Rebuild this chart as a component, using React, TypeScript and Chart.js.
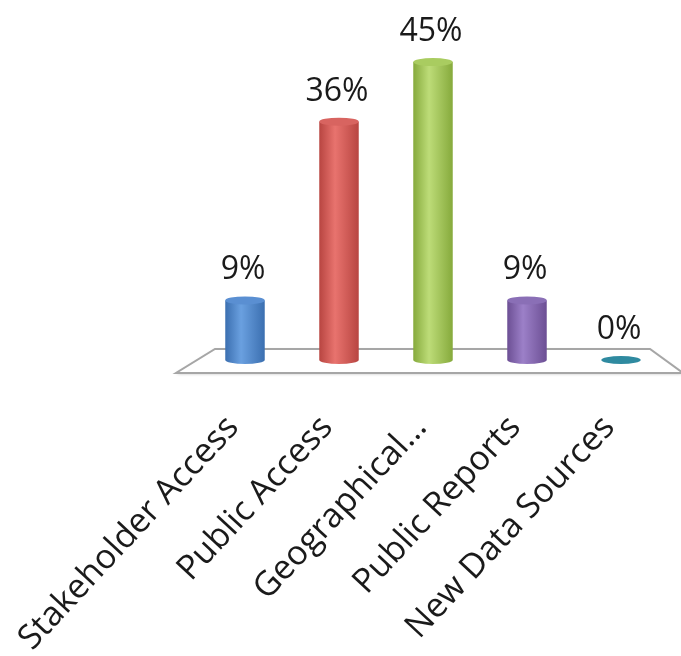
import React, { useEffect, useRef } from "react";
import { Chart, registerables } from "chart.js";

Chart.register(...registerables);

const categories = ["Stakeholder Access", "Public Access", "Geographical…", "Public Reports", "New Data Sources"];
const values = [9, 36, 45, 9, 0];
const valueLabels = ["9%", "36%", "45%", "9%", "0%"];
const darkColors = ["#3b6fb0", "#b84541", "#86aa3c", "#6c4f94", "#2f8aa0"];
const lightColors = ["#6aa0e0", "#e8736e", "#bddc78", "#9c80c8", "#4bb0c8"];
const topColors = ["#5a8fd2", "#d86460", "#a9cc60", "#8a6fb6", "#3aa0b8"];

const FONT = "'Open Sans', 'Liberation Sans', sans-serif";

const cylinderPlugin = {
  id: "cylinders",
  beforeDatasetsDraw(chart: any) {
    const ctx = chart.ctx;
    const y = chart.scales.y;
    const x = chart.scales.x;
    const base = y.getPixelForValue(0);
    const left = x.left;
    const right = x.right;
    ctx.save();
    ctx.beginPath();
    ctx.moveTo(left + 17, base - 11);
    ctx.lineTo(right - 18, base - 11);
    ctx.lineTo(right + 15, base + 13);
    ctx.lineTo(left - 22, base + 13);
    ctx.closePath();
    ctx.fillStyle = "#ffffff";
    ctx.shadowColor = "rgba(0,0,0,0.25)";
    ctx.shadowBlur = 3;
    ctx.shadowOffsetY = 1;
    ctx.fill();
    ctx.shadowColor = "transparent";
    ctx.strokeStyle = "#a6a6a6";
    ctx.lineWidth = 2;
    ctx.stroke();
    ctx.restore();

    const meta = chart.getDatasetMeta(0);
    meta.data.forEach((bar: any, i: number) => {
      const { x: cx, y: top, base: b, width } = bar.getProps(["x", "y", "base", "width"], true);
      const rx = width / 2;
      const ry = 4;
      ctx.save();
      if (Math.abs(b - top) < 1) {
        ctx.beginPath();
        ctx.ellipse(cx, b, rx, ry, 0, 0, Math.PI * 2);
        ctx.fillStyle = darkColors[i];
        ctx.fill();
        ctx.restore();
        return;
      }
      const g = ctx.createLinearGradient(cx - rx, 0, cx + rx, 0);
      g.addColorStop(0, darkColors[i]);
      g.addColorStop(0.4, lightColors[i]);
      g.addColorStop(1, darkColors[i]);
      ctx.beginPath();
      ctx.moveTo(cx - rx, top);
      ctx.lineTo(cx - rx, b);
      ctx.ellipse(cx, b, rx, ry, 0, Math.PI, 0, true);
      ctx.lineTo(cx + rx, top);
      ctx.closePath();
      ctx.fillStyle = g;
      ctx.fill();
      ctx.beginPath();
      ctx.ellipse(cx, top, rx, ry, 0, 0, Math.PI * 2);
      ctx.fillStyle = topColors[i];
      ctx.fill();
      ctx.restore();
    });
  },
  afterDatasetsDraw(chart: any) {
    const ctx = chart.ctx;
    const meta = chart.getDatasetMeta(0);
    ctx.save();
    ctx.font = `32px ${FONT}`;
    ctx.fillStyle = "#1a1a1a";
    ctx.textAlign = "center";
    ctx.textBaseline = "alphabetic";
    meta.data.forEach((bar: any, i: number) => {
      const { x: cx, y: top } = bar.getProps(["x", "y"], true);
      ctx.fillText(valueLabels[i], cx - 2, top - 21);
    });
    ctx.restore();
  },
};

export default function App() {
  const ref = useRef<HTMLCanvasElement>(null);
  useEffect(() => {
    document.body.style.margin = "0";
    const chart = new Chart(ref.current!, {
      type: "bar",
      data: {
        labels: categories,
        datasets: [
          {
            data: values,
            backgroundColor: "rgba(0,0,0,0)",
            borderWidth: 0,
            barPercentage: 0.42,
            categoryPercentage: 1,
          },
        ],
      },
      options: {
        responsive: false,
        animation: false,
        layout: { padding: { left: 198, right: 13, top: 29, bottom: 0 } },
        plugins: { legend: { display: false }, tooltip: { enabled: false } },
        scales: {
          y: { display: false, min: 0, max: 50 },
          x: {
            grid: { display: false },
            border: { display: false },
            afterFit(scale: any) {
              scale.height = 296;
              scale.paddingLeft = 0;
              scale.paddingRight = 0;
            },
            ticks: {
              autoSkip: false,
              maxRotation: 47,
              minRotation: 47,
              padding: 40,
              labelOffset: -12,
              color: "#1a1a1a",
              font: { family: FONT, size: 34 },
            },
          },
        },
      },
      plugins: [cylinderPlugin],
    });
    return () => chart.destroy();
  }, []);
  return <canvas ref={ref} width={681} height={656} style={{ display: "block" }} />;
}
